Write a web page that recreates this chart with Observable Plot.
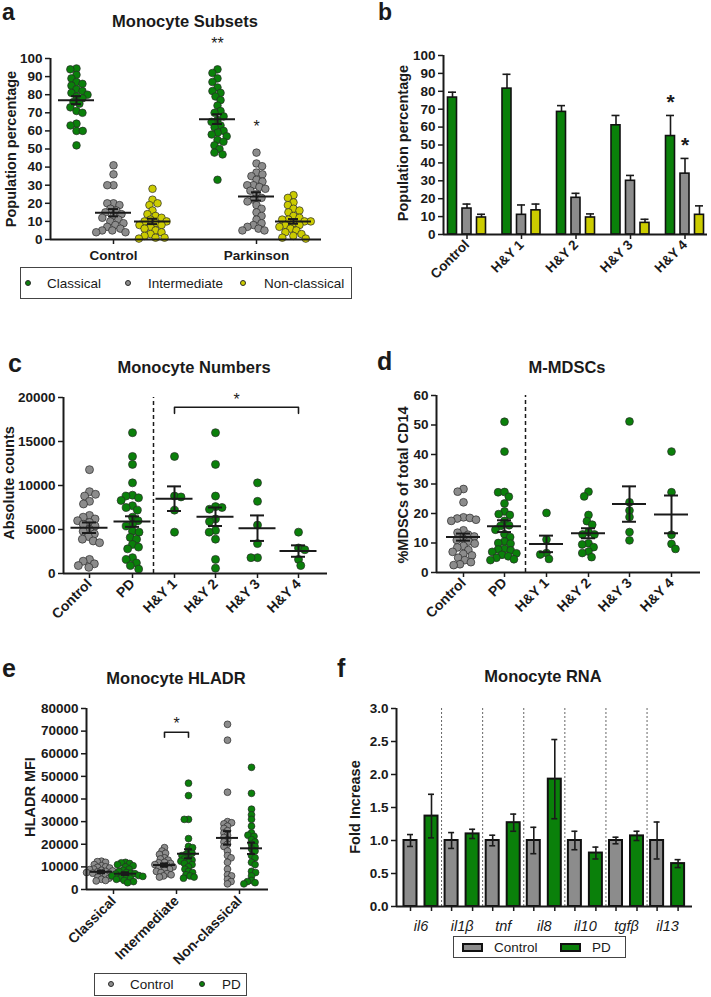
<!DOCTYPE html>
<html><head><meta charset="utf-8">
<script src="https://cdn.jsdelivr.net/npm/d3@7"></script>
<script src="https://cdn.jsdelivr.net/npm/@observablehq/plot@0.6"></script>
<style>
body{margin:0;background:#fff;}
#fig{position:relative;width:711px;height:997px;font-family:"Liberation Sans",Arial,Helvetica,sans-serif;color:#1a1a1a;overflow:hidden;background:#fff}
.t{position:absolute;white-space:nowrap;line-height:1}
#fig svg{position:absolute}
.box{position:absolute;border:1px solid #444;box-sizing:border-box}
</style></head><body><div id="fig"></div>
<script>
// ---------------- DATA ----------------
// Panel a: Monocyte Subsets (population %)
const subsetNames = ["Classical", "Intermediate", "Non-classical"];
const aGroups = ["Control", "Parkinson"];
const aControlClassical = [94.5, 94, 91, 89, 87, 86, 85, 83, 82, 81, 80, 79, 78, 76, 75, 73, 71, 70, 64, 63, 60, 60, 52];
const aControlIntermediate = [41, 36, 30, 30, 20, 20, 19, 17, 16, 15, 14, 13, 12, 11, 10, 9, 8, 7, 6, 5, 5, 4, 4];
const aControlNonClassical = [28, 22, 20, 19, 16, 14, 13, 12, 11, 10, 10, 9, 8, 8, 7, 6, 5, 4, 3, 2, 1, 1, 0.5];
const aParkinsonClassical = [94, 92, 89, 87, 84, 82, 81, 79, 77, 74, 71, 70, 68, 66, 65, 63, 62, 60, 59, 58, 57, 55, 54, 52, 50, 48, 47, 33];
const aParkinsonIntermediate = [48, 42, 40.5, 37, 36, 35, 33, 32, 30, 30, 29, 28, 27, 25, 23, 22, 21, 19, 17, 15, 13, 11, 9, 8, 7, 6, 5, 5];
const aParkinsonNonClassical = [24.5, 23, 20.5, 19, 17, 16, 15, 13, 12, 11, 11, 10, 10, 9, 8, 8, 7, 6, 5, 4, 3, 2, 1, 0.5];
const aMeanControl = [77, 14.8, 10];
const aSemControl = [2.2, 2.0, 1.5];
const aMeanParkinson = [66.5, 23.8, 10];
const aSemParkinson = [2.7, 2.3, 1.3];
const aStars = ["**", "*"];
const aStarValues = [108, 62];

// Panel b: subsets by H&Y stage (mean + SEM)
const bGroups = ["Control", "H&Y 1", "H&Y 2", "H&Y 3", "H&Y 4"];
const bClassical = [76.5, 81.5, 68.5, 61, 55];
const bClassicalErr = [3, 8, 3.5, 5.5, 11.5];
const bIntermediate = [14.5, 11, 20.5, 30, 34];
const bIntermediateErr = [2.5, 5.5, 2.5, 3, 8.5];
const bNonClassical = [9.5, 13.5, 9.5, 6.5, 11];
const bNonClassicalErr = [1.8, 3.5, 2, 2, 5];
const bStarValues = [74, 50];

// Panel c: Monocyte Numbers (absolute counts)
const cGroups = ["Control", "PD", "H&Y 1", "H&Y 2", "H&Y 3", "H&Y 4"];
const cControl = [11800, 9300, 9000, 8800, 8200, 7900, 6600, 6400, 6200, 6000, 5800, 5600, 5400, 5000, 4800, 4500, 4200, 3900, 3700, 3500, 1600, 1400, 1100, 900, 700];
const cPD = [16000, 13300, 12400, 10300, 8900, 8800, 8600, 8300, 7700, 7500, 7200, 6400, 6000, 5600, 5400, 4800, 4700, 4100, 3900, 3300, 3000, 2800, 1800, 1600, 1200, 900, 500];
const cHY1 = [13300, 8800, 8700, 7200, 4700];
const cHY2 = [16000, 12400, 8800, 7600, 7500, 7300, 6200, 5900, 4900, 4700, 3900, 1600, 600];
const cHY3 = [10300, 8200, 5500, 3400, 1800, 1800];
const cHY4 = [4700, 2900, 2700, 1600, 900];
const cMean = [5200, 5900, 8500, 6450, 5150, 2550];
const cSem = [600, 600, 1400, 1050, 1450, 650];
const cBracketY = 18900, cBracketDrop = 700, cStarValue = 19700;

// Panel d: M-MDSCs (% of total CD14)
const dGroups = ["Control", "PD", "H&Y 1", "H&Y 2", "H&Y 3", "H&Y 4"];
const dControl = [28.3, 27.4, 23.8, 18.7, 18.5, 18.3, 17.9, 17.5, 14.3, 13.5, 12.8, 12.2, 11.5, 11, 10.5, 9.8, 9, 8.5, 7.6, 7, 6.3, 5.8, 5, 4.2, 3.5, 2.8, 2.5];
const dPD = [51.1, 41, 27.2, 27.3, 25.7, 23.4, 20.7, 19.8, 19.5, 17.5, 16, 15.8, 14.5, 13, 12, 10.5, 10, 9.8, 8, 7.8, 7.5, 7, 6.5, 6, 5.5, 5, 4.5, 4.2];
const dHY1 = [20.2, 11.2, 6.6, 6.1, 4.6];
const dHY2 = [27.4, 25.8, 19.5, 17.4, 16.2, 13.7, 12.9, 12.9, 9.9, 9.5, 8.6, 7.1, 6.6, 5.2];
const dHY3 = [51.2, 23.8, 21, 18.8, 13.7, 10.9];
const dHY4 = [41, 27.2, 12.8, 9.7, 8];
const dMean = [12, 15.7, 9.7, 13.3, 23.2, 19.7];
const dSem = [1.2, 2.0, 2.8, 1.7, 6, 6.4];

// Panel e: Monocyte HLADR (MFI)
const eGroups = ["Classical", "Intermediate", "Non-classical"];
const eControlClassical = [12500, 12300, 12000, 11000, 10500, 10000, 9800, 9500, 9000, 8800, 8500, 8200, 8000, 7800, 7500, 7200, 7000, 6800, 6500, 6000, 5500, 5000, 4500, 4000, 3800];
const ePDClassical = [12000, 11800, 11500, 11000, 10500, 10000, 9000, 8500, 8000, 7500, 7200, 7000, 6800, 6500, 6200, 6000, 5800, 5500, 5000, 4800, 4500, 4000, 3500, 3000];
const eControlIntermediate = [18500, 17000, 16000, 15500, 14000, 13500, 13000, 12000, 11800, 11500, 11000, 10500, 10200, 10000, 9500, 9000, 8500, 8000, 7500, 7000, 6500, 6000, 5500];
const ePDIntermediate = [47000, 41500, 31000, 31000, 22500, 19000, 18500, 17000, 16000, 15500, 15000, 14000, 13500, 13000, 12500, 12000, 11500, 11000, 10000, 9000, 8000, 7500, 6500, 6000, 5500, 5000];
const eControlNonClassical = [73000, 66000, 43000, 30000, 29500, 29000, 28000, 27000, 26000, 25000, 24000, 23000, 22000, 21000, 20000, 19000, 17000, 15000, 14000, 12000, 9000, 6500, 6000, 4500, 3500, 2500];
const ePDNonClassical = [54000, 42500, 35500, 33000, 31000, 28000, 25000, 24000, 23500, 22000, 21000, 20000, 19000, 18000, 17000, 15000, 14000, 12000, 11000, 8000, 7500, 6000, 4000, 3500, 3000, 2500];
const eMeanControl = [7800, 10800, 22800];
const eSemControl = [600, 700, 3000];
const eMeanPD = [7000, 15800, 18200];
const eSemPD = [600, 2000, 2500];
const eBracketY = 69500, eBracketDrop = 2200, eStarValue = 73200;

// Panel f: Monocyte RNA (fold increase)
const genes = ["il6", "il1β", "tnf", "il8", "il10", "tgfβ", "il13"];
const fControl = [1, 1, 1, 1, 1, 1, 1];
const fControlErr = [0.09, 0.12, 0.08, 0.2, 0.14, 0.05, 0.28];
const fPD = [1.37, 1.1, 1.27, 1.93, 0.81, 1.07, 0.65];
const fPDErr = [0.33, 0.07, 0.13, 0.6, 0.09, 0.07, 0.06];

// ---------------- STYLE / LAYOUT ----------------
const FONT = '"Liberation Sans", Arial, Helvetica, sans-serif';
const GREEN = "#0a800a", GRAY = "#8c8c8c", YELLOW = "#cccc00", OUTLINE = "#2a2a2a";
const fig = document.getElementById("fig");

function txt(s, x, y, o = {}) {
  const size = o.size || 13, d = document.createElement("div");
  d.className = "t"; d.textContent = s;
  d.style.fontSize = size + "px";
  d.style.fontWeight = o.weight || "bold";
  if (o.italic) d.style.fontStyle = "italic";
  if (o.rotate) {
    d.style.left = x + "px"; d.style.top = y + "px";
    d.style.transform = `translate(-50%,-50%) rotate(${o.rotate}deg)`;
  } else {
    d.style.left = x + "px"; d.style.top = (y - 0.846 * size) + "px";
    if (o.anchor === "middle") d.style.transform = "translateX(-50%)";
  }
  fig.appendChild(d);
  return d;
}
function box(x, y, w, h) {
  const d = document.createElement("div");
  d.className = "box";
  Object.assign(d.style, {left: x + "px", top: y + "px", width: w + "px", height: h + "px"});
  fig.appendChild(d);
}
function swatchDot(x, y, r, color) {
  const d = document.createElement("div");
  Object.assign(d.style, {position: "absolute", left: (x - r) + "px", top: (y - r) + "px", width: 2 * r + "px", height: 2 * r + "px", borderRadius: "50%", background: color, border: "0.7px solid " + OUTLINE, boxSizing: "border-box"});
  fig.appendChild(d);
}
function swatchRect(x, y, w, h, color) {
  const d = document.createElement("div");
  Object.assign(d.style, {position: "absolute", left: x + "px", top: y + "px", width: w + "px", height: h + "px", background: color, border: "2px solid #111", boxSizing: "border-box"});
  fig.appendChild(d);
}

// deterministic beeswarm layout (pixel offsets around a centre)
function swarm(values, cx, yPix, r, sep, fill) {
  const dd = 2 * r * sep;
  const pts = values.map(v => ({v, py: yPix(v)}));
  const order = pts.slice().sort((a, b) => a.py - b.py);
  const placed = [];
  let flip = 1;
  for (const p of order) {
    const cands = [0];
    for (const q of placed) {
      const dy = Math.abs(q.py - p.py);
      if (dy < dd) { const dx = Math.sqrt(dd * dd - dy * dy); cands.push(q.ox + dx, q.ox - dx); }
    }
    cands.sort((a, b) => (Math.abs(a) - Math.abs(b)) || (flip * (b - a)));
    for (const c of cands) {
      if (placed.every(q => (q.ox - c) ** 2 + (q.py - p.py) ** 2 >= dd * dd - 1e-6)) { p.ox = c; break; }
    }
    flip = -flip;
    placed.push(p);
  }
  return pts.map(p => ({v: p.v, x: cx + p.ox, fill}));
}

function meanSem(stats, w, cap, sw = 2) {
  return [
    Plot.ruleX(stats, {x: "x", y1: d => d.mean - d.sem, y2: d => d.mean + d.sem, strokeWidth: sw}),
    Plot.ruleY(stats, {x1: d => d.x - cap / 2, x2: d => d.x + cap / 2, y: d => d.mean - d.sem, strokeWidth: sw}),
    Plot.ruleY(stats, {x1: d => d.x - cap / 2, x2: d => d.x + cap / 2, y: d => d.mean + d.sem, strokeWidth: sw}),
    Plot.ruleY(stats, {x1: d => d.x - w / 2, x2: d => d.x + w / 2, y: "mean", strokeWidth: sw})
  ];
}

function panel(p) {
  const labelMap = new Map(p.xTicks.map((t, i) => [t, p.xLabels ? p.xLabels[i] : ""]));
  const svg = Plot.plot({
    width: p.W, height: p.H,
    marginLeft: p.x0 - p.L, marginRight: p.L + p.W - p.x1,
    marginTop: p.yTop - p.T, marginBottom: p.T + p.H - p.yBot,
    x: {domain: [p.L, p.L + p.W], range: [0, p.W], label: null},
    y: {domain: p.yDomain, range: [p.yBot - p.T, p.yTop - p.T], label: null},
    style: {fontFamily: FONT, fontSize: "13px", fontWeight: "bold", color: "#1a1a1a", background: "transparent", overflow: "visible"},
    marks: [
      ...p.marks,
      Plot.axisY({ticks: p.yTicks, tickFormat: p.yFormat || (d => String(d)), tickSize: 5, strokeWidth: 1.5, tickPadding: 3, fontSize: p.yFont || 13.5, label: null}),
      Plot.axisX({ticks: p.xTicks, tickFormat: d => labelMap.get(d) ?? "", tickSize: 5, strokeWidth: 1.5, tickPadding: p.xPad ?? 4, tickRotate: p.xRotate || 0, fontSize: p.xFont || 13, label: null}),
      Plot.ruleX([p.x0], {y1: p.yDomain[0], y2: p.yDomain[1], strokeWidth: 2}),
      Plot.ruleY([p.yDomain[0]], {x1: p.x0, x2: p.x1, strokeWidth: 2})
    ]
  });
  svg.style.left = p.L + "px"; svg.style.top = p.T + "px";
  fig.appendChild(svg);
}
const yPixOf = (dom, bot, top) => v => bot + (v - dom[0]) / (dom[1] - dom[0]) * (top - bot);

// ---------------- PANEL a ----------------
{
  const f = {L: 0, T: 25, W: 360, H: 245, x0: 50, x1: 321, yTop: 58, yBot: 239, yDomain: [0, 100]};
  const yp = yPixOf(f.yDomain, f.yBot, f.yTop);
  const centers = [[76, 113, 152], [217, 256, 293]];
  const colors = [GREEN, GRAY, YELLOW];
  const sets = [[aControlClassical, aControlIntermediate, aControlNonClassical], [aParkinsonClassical, aParkinsonIntermediate, aParkinsonNonClassical]];
  const means = [aMeanControl, aMeanParkinson], sems = [aSemControl, aSemParkinson];
  let pts = [], stats = [];
  sets.forEach((g, gi) => g.forEach((vals, si) => {
    pts = pts.concat(swarm(vals, centers[gi][si], yp, 3.8, 0.82, colors[si]));
    stats.push({x: centers[gi][si], mean: means[gi][si], sem: sems[gi][si]});
  }));
  panel({...f, yTicks: d3.range(0, 101, 10), xTicks: [centers[0][1], centers[1][1]], xLabels: aGroups, xPad: 6, xFont: 13.5,
    marks: [
      Plot.dot(pts, {x: "x", y: "v", r: 3.8, fill: "fill", stroke: OUTLINE, strokeWidth: 0.7}),
      ...meanSem(stats, 36, 10),
      Plot.text(aStars, {x: [centers[1][0], centers[1][1]], y: aStarValues, fontSize: 16, fontWeight: "normal"})
    ]});
  txt("a", 2, 20, {size: 23});
  txt("Monocyte Subsets", 185, 27, {size: 16.5, anchor: "middle"});
  txt("Population percentage", 11, 149, {size: 14.5, rotate: -90});
  box(20, 267, 332, 32);
  [[28, 47], [128, 148], [243, 264]].forEach(([dx, tx], i) => {
    swatchDot(dx, 283, 3, colors[i]);
    txt(subsetNames[i], tx, 288, {size: 13.5, weight: "normal"});
  });
}

// ---------------- PANEL b ----------------
{
  const f = {L: 360, T: 25, W: 351, H: 265, x0: 443, x1: 707, yTop: 55, yBot: 234, yDomain: [0, 100]};
  const gc = [466.5, 521, 575.5, 630, 684.5];
  const off = [-14.5, 0, 14.5], bw = 9;
  const colors = [GREEN, GRAY, YELLOW];
  const vals = [bClassical, bIntermediate, bNonClassical], errs = [bClassicalErr, bIntermediateErr, bNonClassicalErr];
  const bars = [];
  bGroups.forEach((g, gi) => vals.forEach((v, si) => bars.push({x: gc[gi] + off[si], v: v[gi], e: errs[si][gi], fill: colors[si]})));
  panel({...f, yTicks: d3.range(0, 101, 10), xTicks: gc, xLabels: bGroups, xRotate: -45, xPad: 3, xFont: 13.5,
    marks: [
      Plot.ruleX(bars, {x: "x", y1: "v", y2: d => d.v + d.e, strokeWidth: 1.6}),
      Plot.ruleY(bars, {x1: d => d.x - 4, x2: d => d.x + 4, y: d => d.v + d.e, strokeWidth: 1.6}),
      Plot.rect(bars, {x1: d => d.x - bw / 2, x2: d => d.x + bw / 2, y1: 0, y2: "v", fill: "fill", stroke: "#111", strokeWidth: 1.6}),
      Plot.text(["*", "*"], {x: [gc[4] + off[0], gc[4]], y: bStarValues, fontSize: 21, fontWeight: "bold"})
    ]});
  txt("b", 378, 20, {size: 23});
  txt("Population percentage", 403, 143, {size: 14.5, rotate: -90});
}

// ---------------- PANEL c ----------------
{
  const f = {L: 0, T: 380, W: 360, H: 270, x0: 63, x1: 327, yTop: 397, yBot: 573, yDomain: [0, 20000]};
  const yp = yPixOf(f.yDomain, f.yBot, f.yTop);
  const gc = [89, 132, 174, 215, 257, 298];
  const sets = [cControl, cPD, cHY1, cHY2, cHY3, cHY4];
  let pts = [];
  sets.forEach((vals, i) => { pts = pts.concat(swarm(vals, gc[i], yp, 4, 0.82, i === 0 ? GRAY : GREEN)); });
  const stats = gc.map((x, i) => ({x, mean: cMean[i], sem: cSem[i]}));
  panel({...f, yTicks: d3.range(0, 20001, 5000), xTicks: gc, xLabels: cGroups, xRotate: -45, xPad: 3, xFont: 14,
    marks: [
      Plot.ruleX([(gc[1] + gc[2]) / 2], {y1: 0, y2: 20000, strokeWidth: 1.5, strokeDasharray: "4,3"}),
      Plot.dot(pts, {x: "x", y: "v", r: 4, fill: "fill", stroke: OUTLINE, strokeWidth: 0.7}),
      ...meanSem(stats, 37, 14),
      Plot.line([{x: gc[2], y: cBracketY - cBracketDrop}, {x: gc[2], y: cBracketY}, {x: gc[5], y: cBracketY}, {x: gc[5], y: cBracketY - cBracketDrop}], {x: "x", y: "y", strokeWidth: 1.6}),
      Plot.text(["*"], {x: [(gc[2] + gc[5]) / 2], y: [cStarValue], fontSize: 16, fontWeight: "normal"})
    ]});
  txt("c", 8, 372, {size: 25});
  txt("Monocyte Numbers", 194, 373, {size: 16.5, anchor: "middle"});
  txt("Absolute counts", 9, 483, {size: 14.5, rotate: -90});
}

// ---------------- PANEL d ----------------
{
  const f = {L: 360, T: 380, W: 351, H: 270, x0: 436, x1: 700, yTop: 395, yBot: 572, yDomain: [0, 60]};
  const yp = yPixOf(f.yDomain, f.yBot, f.yTop);
  const gc = [463, 504, 546, 588, 629, 671];
  const sets = [dControl, dPD, dHY1, dHY2, dHY3, dHY4];
  let pts = [];
  sets.forEach((vals, i) => { pts = pts.concat(swarm(vals, gc[i], yp, 3.9, 0.82, i === 0 ? GRAY : GREEN)); });
  const stats = gc.map((x, i) => ({x, mean: dMean[i], sem: dSem[i]}));
  panel({...f, yTicks: d3.range(0, 61, 10), xTicks: gc, xLabels: dGroups, xRotate: -45, xPad: 3, xFont: 14,
    marks: [
      Plot.ruleX([(gc[1] + gc[2]) / 2], {y1: 0, y2: 60, strokeWidth: 1.5, strokeDasharray: "4,3"}),
      Plot.dot(pts, {x: "x", y: "v", r: 3.9, fill: "fill", stroke: OUTLINE, strokeWidth: 0.7}),
      ...meanSem(stats, 34, 14)
    ]});
  txt("d", 377, 370, {size: 25});
  txt("M-MDSCs", 567, 373, {size: 16.5, anchor: "middle"});
  txt("%MDSCs of total CD14", 403, 485, {size: 14.5, rotate: -90});
}

// ---------------- PANEL e ----------------
{
  const f = {L: 0, T: 690, W: 360, H: 282, x0: 86, x1: 268, yTop: 708, yBot: 889, yDomain: [0, 80000]};
  const yp = yPixOf(f.yDomain, f.yBot, f.yTop);
  const tc = [113, 176, 239];
  const cc = tc.map(t => t - 12), pc = tc.map(t => t + 12);
  const ctrl = [eControlClassical, eControlIntermediate, eControlNonClassical];
  const pd = [ePDClassical, ePDIntermediate, ePDNonClassical];
  let pts = [], stats = [];
  tc.forEach((t, i) => {
    pts = pts.concat(swarm(ctrl[i], cc[i], yp, 3.4, 0.62, GRAY), swarm(pd[i], pc[i], yp, 3.4, 0.62, GREEN));
    stats.push({x: cc[i], mean: eMeanControl[i], sem: eSemControl[i]}, {x: pc[i], mean: eMeanPD[i], sem: eSemPD[i]});
  });
  panel({...f, yTicks: d3.range(0, 80001, 10000), xTicks: tc, xLabels: eGroups, xRotate: -45, xPad: 4, xFont: 14,
    marks: [
      Plot.dot(pts, {x: "x", y: "v", r: 3.4, fill: "fill", stroke: OUTLINE, strokeWidth: 0.7}),
      ...meanSem(stats, 22, 8),
      Plot.line([{x: cc[1], y: eBracketY - eBracketDrop}, {x: cc[1], y: eBracketY}, {x: pc[1], y: eBracketY}, {x: pc[1], y: eBracketY - eBracketDrop}], {x: "x", y: "y", strokeWidth: 1.6}),
      Plot.text(["*"], {x: [tc[1]], y: [eStarValue], fontSize: 16, fontWeight: "normal"})
    ]});
  txt("e", 2, 677, {size: 25});
  txt("Monocyte HLADR", 176, 684, {size: 16.5, anchor: "middle"});
  txt("HLADR MFI", 30, 797, {size: 14.5, rotate: -90});
  box(94, 973, 153, 23);
  swatchDot(111, 984, 3, GRAY); txt("Control", 130, 989, {size: 13.5, weight: "normal"});
  swatchDot(202, 984, 3, GREEN); txt("PD", 222, 989, {size: 13.5, weight: "normal"});
}

// ---------------- PANEL f ----------------
{
  const f = {L: 360, T: 690, W: 351, H: 250, x0: 396, x1: 692, yTop: 708, yBot: 906, yDomain: [0, 3]};
  const step = 41.1, gx = genes.map((g, i) => 410 + i * step), px = gx.map(x => x + 21);
  const bw = 13;
  const bars = [];
  genes.forEach((g, i) => {
    bars.push({x: gx[i], v: fControl[i], e: fControlErr[i], fill: GRAY});
    bars.push({x: px[i], v: fPD[i], e: fPDErr[i], fill: GREEN});
  });
  const dividers = gx.slice(1).map((x, i) => (px[i] + x) / 2);
  const mids = gx.map((x, i) => (x + px[i]) / 2);
  panel({...f, yTicks: d3.range(0, 3.01, 0.5), yFormat: d3.format(".1f"), xTicks: bars.map(b => b.x).sort((a, b) => a - b), xLabels: null,
    marks: [
      Plot.ruleX(dividers, {y1: 0, y2: 3, stroke: "#666", strokeWidth: 1, strokeDasharray: "2,2"}),
      Plot.rect(bars, {x1: d => d.x - bw / 2, x2: d => d.x + bw / 2, y1: 0, y2: "v", fill: "fill", stroke: "#111", strokeWidth: 2}),
      Plot.ruleX(bars, {x: "x", y1: d => d.v - d.e, y2: d => d.v + d.e, strokeWidth: 1.6}),
      Plot.ruleY(bars, {x1: d => d.x - 3, x2: d => d.x + 3, y: d => d.v - d.e, strokeWidth: 1.6}),
      Plot.ruleY(bars, {x1: d => d.x - 3, x2: d => d.x + 3, y: d => d.v + d.e, strokeWidth: 1.6}),
      Plot.text(genes, {x: mids, y: 0, dy: 20, fontSize: 14.5, fontWeight: "normal", fontStyle: "italic"})
    ]});
  txt("f", 337, 677, {size: 25});
  txt("Monocyte RNA", 543, 682, {size: 16.5, anchor: "middle"});
  txt("Fold Increase", 355, 807, {size: 14.5, rotate: -90});
  box(453, 936, 173, 22);
  swatchRect(462, 943, 21, 9, GRAY); txt("Control", 494, 952, {size: 13.5, weight: "normal"});
  swatchRect(560, 943, 21, 9, GREEN); txt("PD", 592, 952, {size: 13.5, weight: "normal"});
}
</script></body></html>
